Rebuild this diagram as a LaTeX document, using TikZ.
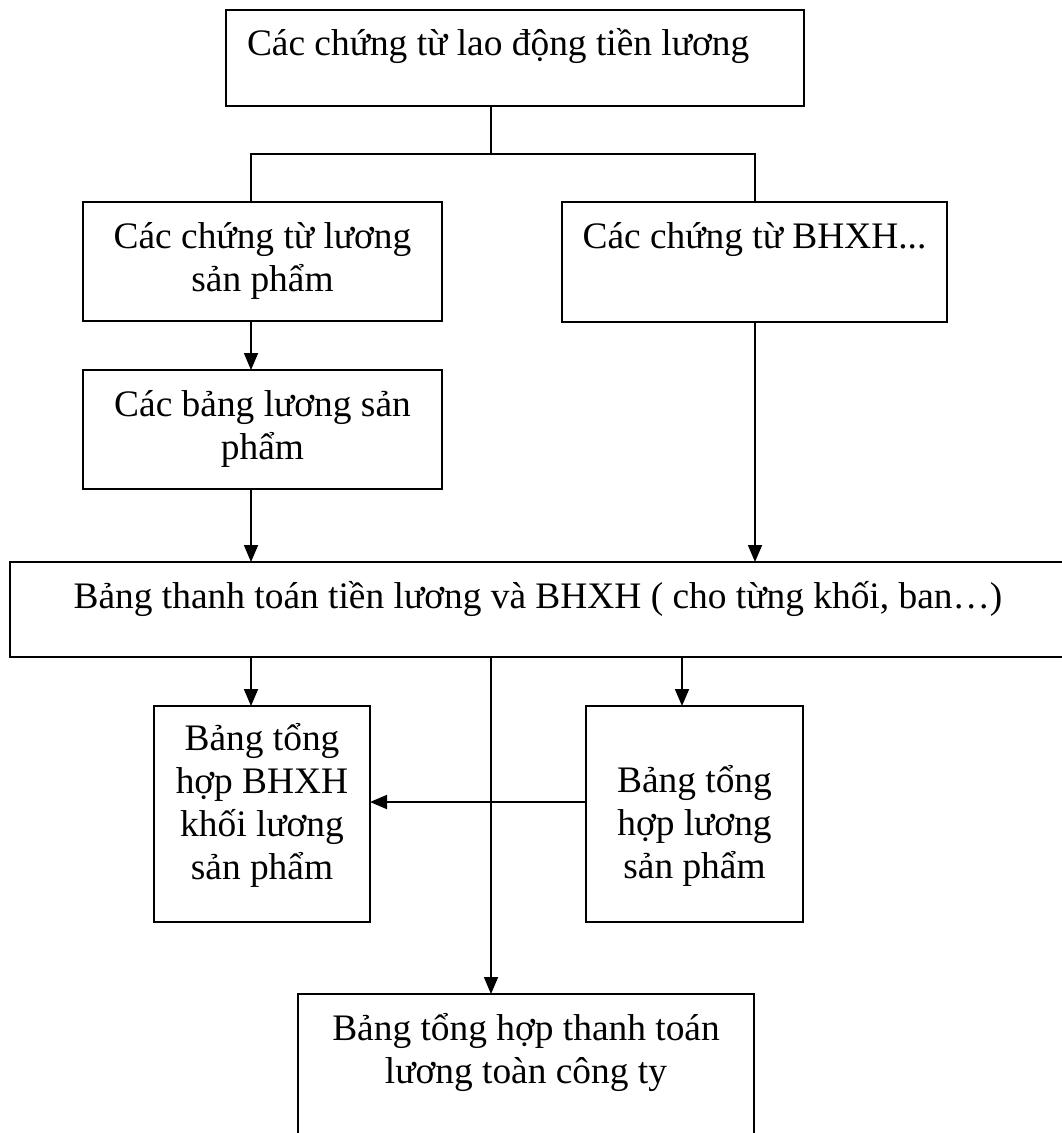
\documentclass[tikz,border=0pt]{standalone}
\usepackage{fontspec}
\setmainfont{Liberation Serif}
\usetikzlibrary{arrows.meta}
\newcommand{\btext}[5]{\parbox[c][#2][t]{#1}{\lineskiplimit=-50pt #3\rule{0pt}{#4}#5}}
\tikzset{
  box/.style={draw, line width=1.7pt, inner sep=0pt, outer sep=0pt, anchor=north west,
              font=\fontsize{37.4}{43}\selectfont},
  arr/.style={line width=1.8pt, -{Triangle[width=14pt,length=17pt]}},
  tree/.style={line width=1.2pt}
}
\begin{document}
\begin{tikzpicture}[x=1pt,y=-1pt]
\useasboundingbox (0,0) rectangle (1062,1133);
% boxes
\node[box] (top) at (226,10) {\btext{578pt}{96pt}{\raggedright}{45pt}{\hspace*{21pt}Các chứng từ lao động tiền lương}};
\node[box] (A) at (83,202) {\btext{359pt}{119pt}{\centering}{46pt}{Các chứng từ lương\\sản phẩm}};
\node[box] (B) at (562,202) {\btext{385pt}{120pt}{\centering}{46pt}{Các chứng từ BHXH...}};
\node[box] (C) at (83,370) {\btext{359pt}{119pt}{\centering}{46pt}{Các bảng lương sản\\phẩm}};
\node[box] (D) at (10,562) {\btext{1056pt}{95pt}{\centering}{46pt}{Bảng thanh toán tiền lương và BHXH ( cho từng khối, ban…)}};
\node[box] (E) at (154,706) {\btext{216pt}{216pt}{\centering}{44pt}{Bảng tổng\\hợp BHXH\\khối lương\\sản phẩm}};
\node[box] (F) at (586,706) {\btext{217pt}{216pt}{\centering}{86pt}{Bảng tổng\\hợp lương\\sản phẩm}};
\node[box] (G) at (298,994) {\btext{456pt}{150pt}{\centering}{46pt}{Bảng tổng hợp thanh toán\\lương toàn công ty}};
% junction coordinates
\coordinate (jl) at (251,154);
\coordinate (j) at (491,154);
\coordinate (jr) at (755,154);
\coordinate (k) at (682,0);
\coordinate (m) at (0,802);
% tree connectors
\draw[tree] (j |- top.south) -- (j);
\draw[tree] (jl |- A.north) -- (jl) -- (jr) -- (jr |- B.north);
% arrows
\draw[arr] (jl |- A.south) -- (jl |- C.north);
\draw[arr] (jl |- C.south) -- (jl |- D.north);
\draw[arr] (jr |- B.south) -- (jr |- D.north);
\draw[arr] (jl |- D.south) -- (jl |- E.north);
\draw[arr] (k |- D.south) -- (k |- F.north);
\draw[arr] (j |- D.south) -- (j |- G.north);
\draw[arr] (F.west |- m) -- (E.east |- m);
\end{tikzpicture}
\end{document}
